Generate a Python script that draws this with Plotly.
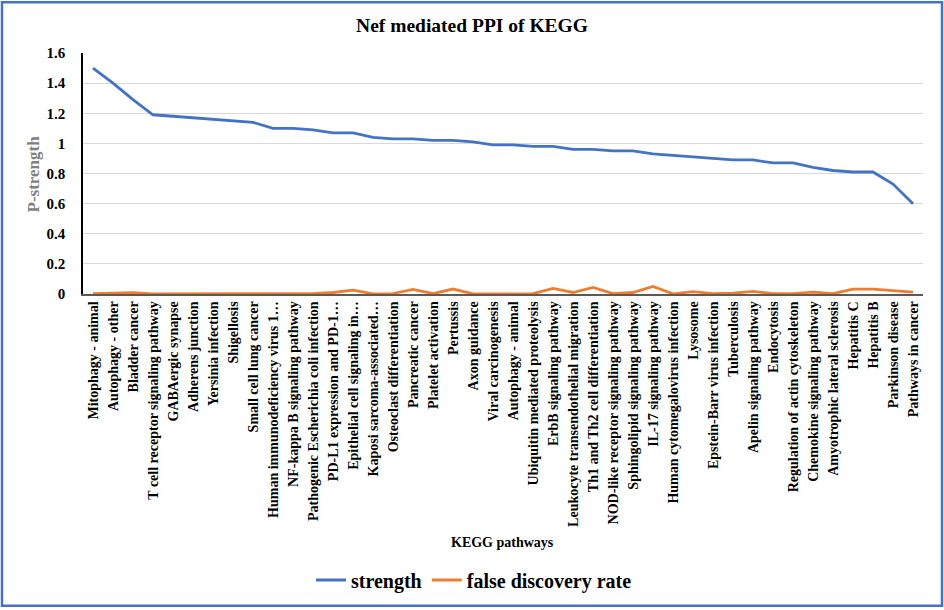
import plotly.graph_objects as go

categories = [
    "Mitophagy - animal", "Autophagy - other", "Bladder cancer",
    "T cell receptor signaling pathway", "GABAergic synapse", "Adherens junction",
    "Yersinia infection", "Shigellosis", "Small cell lung cancer",
    "Human immunodeficiency virus 1…", "NF-kappa B signaling pathway",
    "Pathogenic Escherichia coli infection", "PD-L1 expression and PD-1…",
    "Epithelial cell signaling in…", "Kaposi sarcoma-associated…",
    "Osteoclast differentiation", "Pancreatic cancer", "Platelet activation",
    "Pertussis", "Axon guidance", "Viral carcinogenesis", "Autophagy - animal",
    "Ubiquitin mediated proteolysis", "ErbB signaling pathway",
    "Leukocyte transendothelial migration", "Th1 and Th2 cell differentiation",
    "NOD-like receptor signaling pathway", "Sphingolipid signaling pathway",
    "IL-17 signaling pathway", "Human cytomegalovirus infection", "Lysosome",
    "Epstein-Barr virus infection", "Tuberculosis", "Apelin signaling pathway",
    "Endocytosis", "Regulation of actin cytoskeleton", "Chemokine signaling pathway",
    "Amyotrophic lateral sclerosis", "Hepatitis C", "Hepatitis B",
    "Parkinson disease", "Pathways in cancer",
]

strength = [
    1.50, 1.40, 1.29, 1.19, 1.18, 1.17, 1.16, 1.15, 1.14, 1.10,
    1.10, 1.09, 1.07, 1.07, 1.04, 1.03, 1.03, 1.02, 1.02, 1.01,
    0.99, 0.99, 0.98, 0.98, 0.96, 0.96, 0.95, 0.95, 0.93, 0.92,
    0.91, 0.90, 0.89, 0.89, 0.87, 0.87, 0.84, 0.82, 0.81, 0.81,
    0.73, 0.60,
]

fdr = [
    0.002, 0.007, 0.009, 0.001, 0.002, 0.005, 0.002, 0.002, 0.002, 0.002,
    0.002, 0.002, 0.010, 0.026, 0.001, 0.003, 0.031, 0.002, 0.033, 0.001,
    0.001, 0.001, 0.002, 0.037, 0.010, 0.044, 0.002, 0.010, 0.050, 0.001,
    0.016, 0.003, 0.005, 0.018, 0.002, 0.003, 0.013, 0.002, 0.033, 0.033,
    0.024, 0.013,
]

y_ticks = [0, 0.2, 0.4, 0.6, 0.8, 1, 1.2, 1.4, 1.6]
y_tick_text = ["0", "0.2", "0.4", "0.6", "0.8", "1", "1.2", "1.4", "1.6"]

SERIF = "Liberation Serif, Times New Roman, serif"

fig = go.Figure()
fig.add_trace(go.Scatter(x=categories, y=strength, mode="lines", name="strength",
                         line=dict(color="#4472C4", width=2.8)))
fig.add_trace(go.Scatter(x=categories, y=fdr, mode="lines", name="false discovery rate",
                         line=dict(color="#ED7D31", width=2.8)))

L, R, T, B = 83, 21, 53, 315
W, H = 944, 610
pw = W - L - R
ph = H - T - B

def px(xp):
    return (xp - L) / pw

def py(yp):
    return (H - B - yp) / ph

fig.update_layout(
    width=W, height=H,
    margin=dict(l=L, r=R, t=T, b=B),
    paper_bgcolor="white", plot_bgcolor="white",
    font=dict(family=SERIF, color="black"),
    title=dict(text="Nef mediated PPI of KEGG", xref="container", x=472 / W, xanchor="center",
               y=1 - 25 / H, yanchor="middle",
               font=dict(size=19.5, family=SERIF, weight="bold")),
    showlegend=True,
    legend=dict(orientation="h", x=px(474), xanchor="center", y=py(580), yanchor="middle",
                font=dict(size=20, family=SERIF, color="black", weight="bold"),
                itemwidth=30),
    xaxis=dict(
        type="category", range=[-0.5, len(categories) - 0.5],
        tickangle=-90, tickfont=dict(size=14, family=SERIF, color="black", weight="bold"),
        showgrid=False, showline=True, linecolor="#595959", linewidth=1.5,
        ticks="", fixedrange=True,
    ),
    yaxis=dict(
        range=[0, 1.6], tickvals=y_ticks, ticktext=y_tick_text,
        tickfont=dict(size=15, family=SERIF, color="black", weight="bold"),
        showgrid=True, gridcolor="#d9d9d9", gridwidth=1,
        showline=True, linecolor="black", linewidth=1.5,
        zeroline=False, ticks="", ticklabelstandoff=13,
    ),
    annotations=[
        dict(text="KEGG pathways", xref="paper", yref="paper",
             x=px(502), y=py(545), xanchor="center", yanchor="middle",
             showarrow=False, font=dict(size=14, family=SERIF, color="black", weight="bold")),
        dict(text="P-strength", xref="paper", yref="paper", textangle=-90,
             x=px(33), y=py(175), xanchor="center", yanchor="middle",
             showarrow=False, font=dict(size=17, family=SERIF, color="#7f7f7f", weight="bold")),
    ],
    shapes=[
        dict(type="rect", xref="paper", yref="paper",
             x0=px(2), x1=px(942), y0=py(608), y1=py(2),
             line=dict(color="#4472C4", width=2.5), fillcolor="rgba(0,0,0,0)", layer="above"),
    ],
)

fig.write_html("out.html", config={"displayModeBar": False},
               post_script="document.body.style.margin='0';")
